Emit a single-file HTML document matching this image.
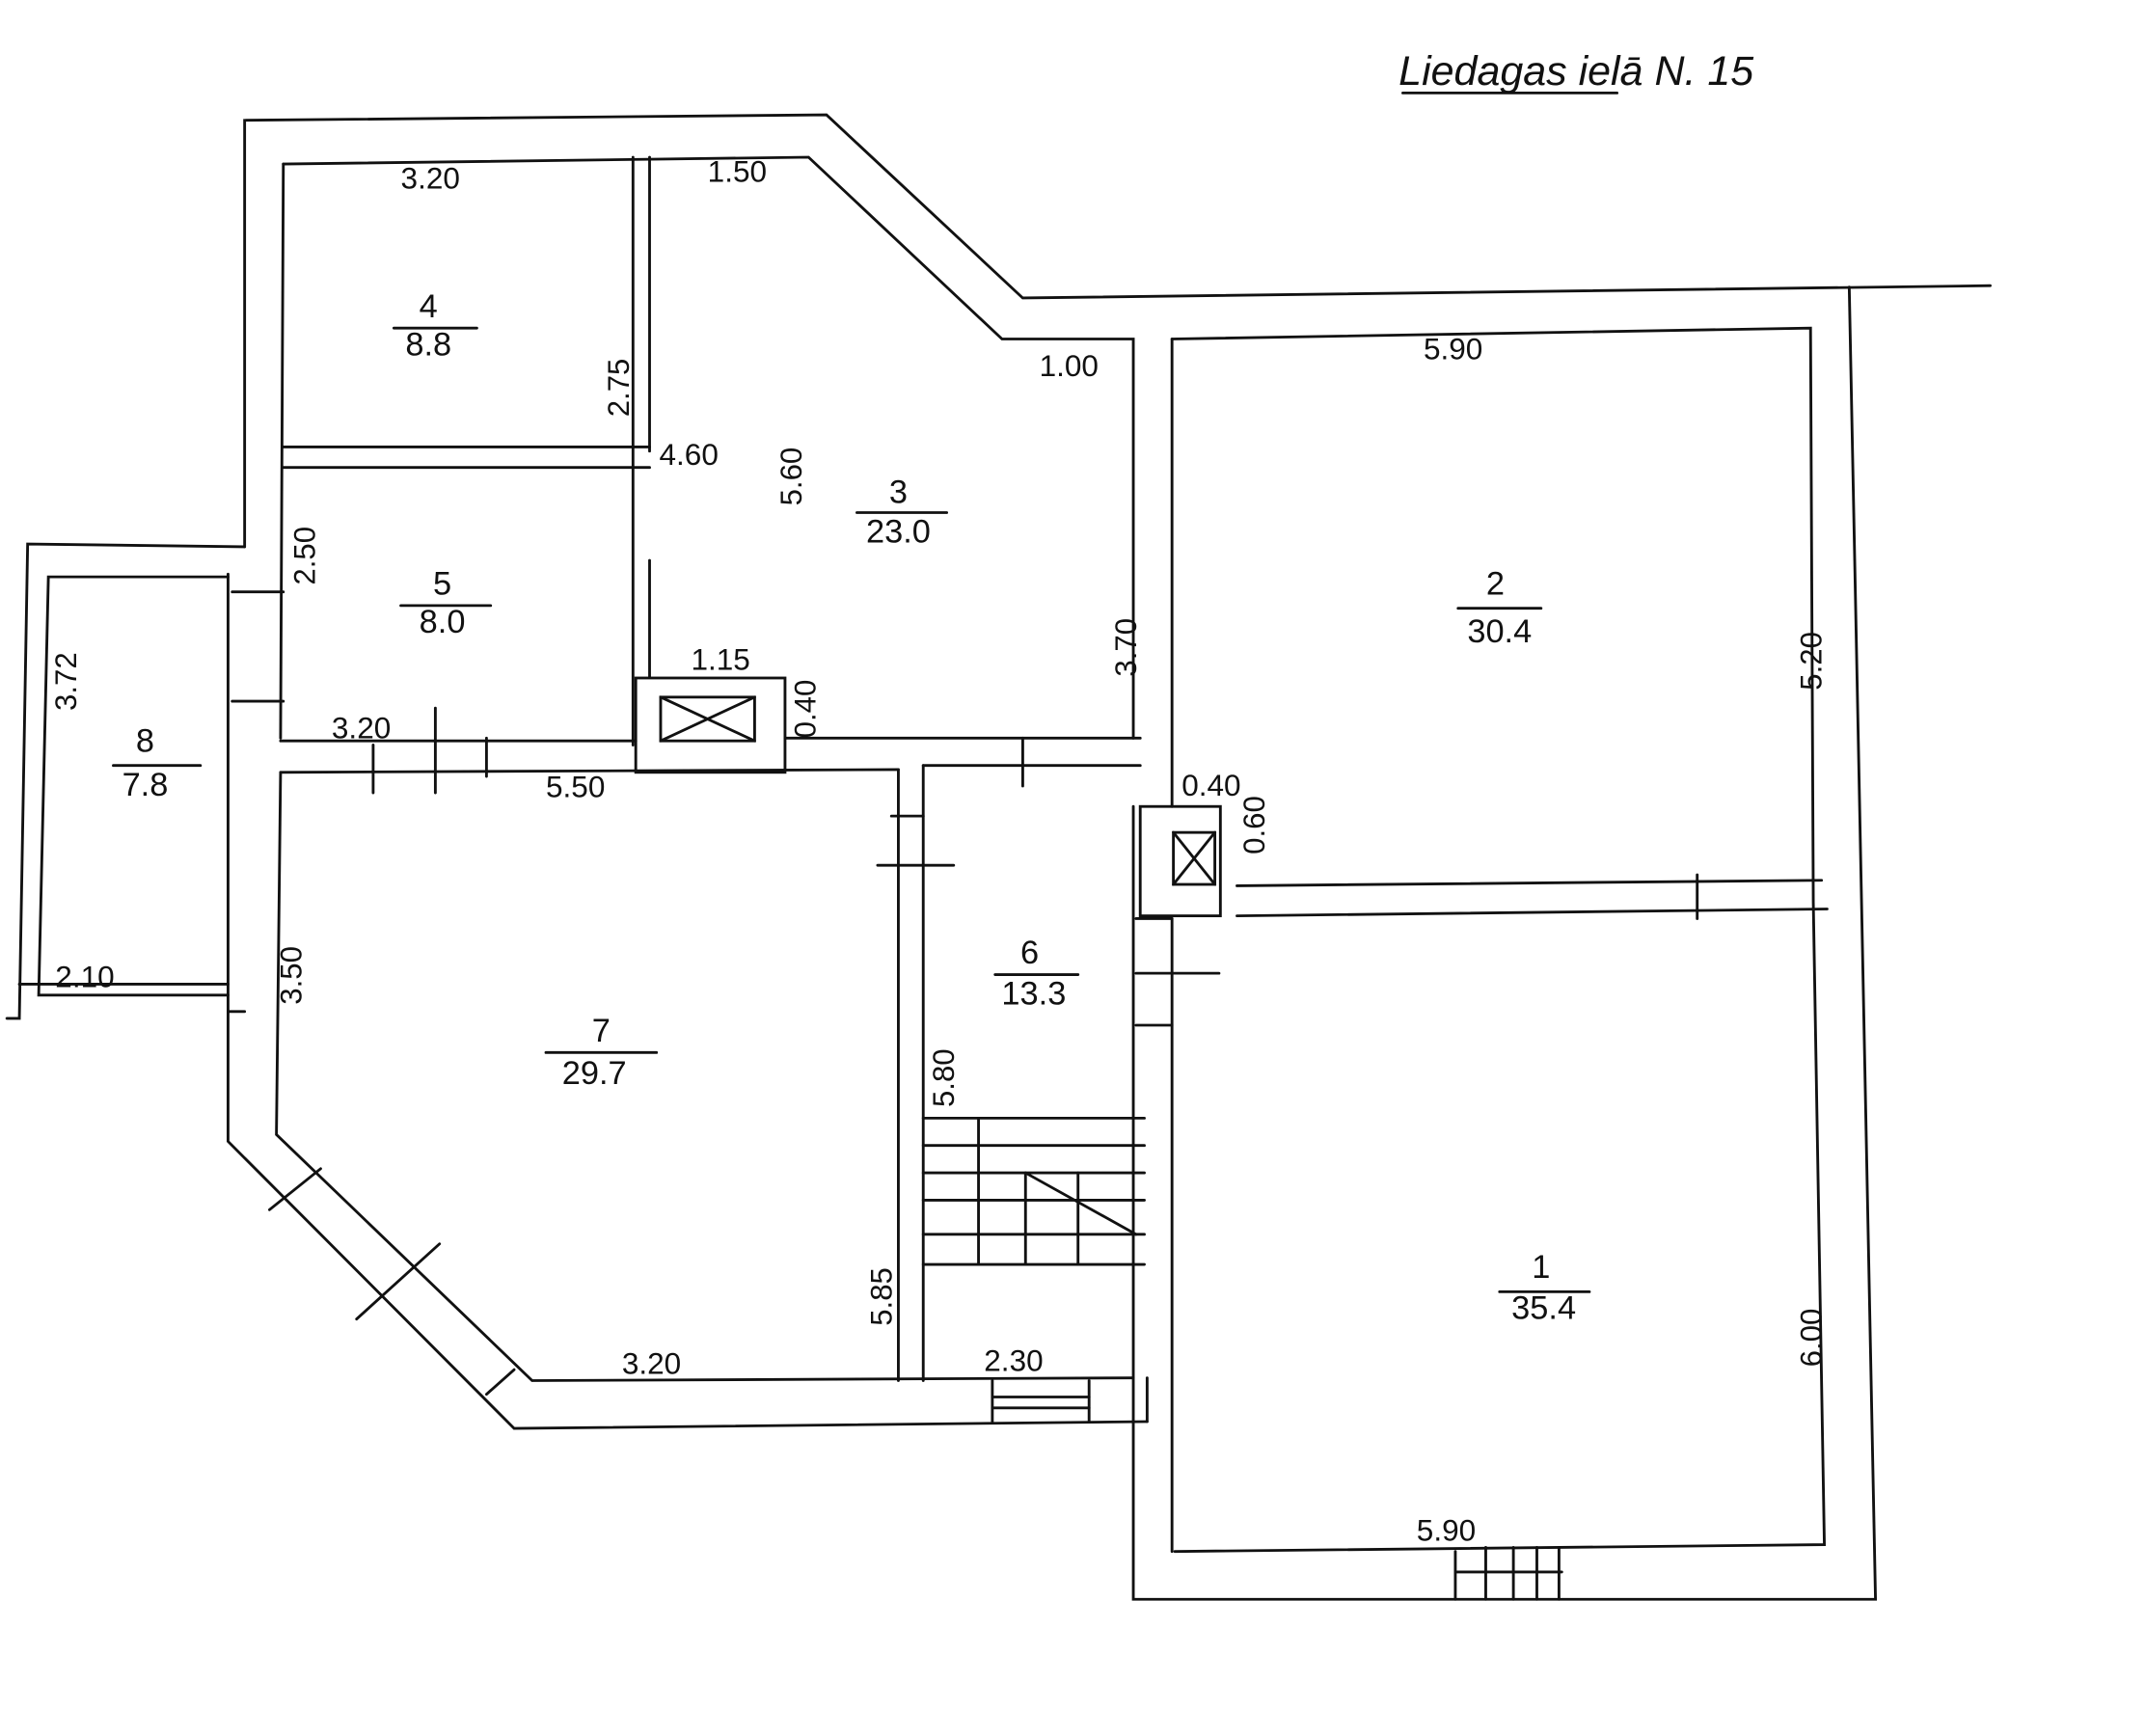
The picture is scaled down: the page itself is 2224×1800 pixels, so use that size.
<!DOCTYPE html>
<html><head><meta charset="utf-8"><style>
html,body{margin:0;padding:0;background:#fff;}
svg{display:block}
text{font-family:"Liberation Sans",sans-serif;fill:#111;}
</style></head><body>
<svg width="2224" height="1800" viewBox="0 0 1552 1270" preserveAspectRatio="none" xmlns="http://www.w3.org/2000/svg">
<g stroke="#111" stroke-width="2" fill="none" stroke-linecap="round">
<!-- outer left building -->
<polyline points="177,400 177,88 598,84 740,218 1440,209"/>
<polyline points="205,120 585,115 725,248 820,248 820,540"/>
<line x1="177" y1="740" x2="165" y2="740"/>
<polyline points="165,420 165,835 372,1045 830,1040"/>
<polyline points="205,120 203,540"/>
<polyline points="203,565 200,830 385,1010 820,1008"/>
<!-- room 8 -->
<polyline points="177,400 20,398 14,745 5,745"/>
<polyline points="165,422 35,422 28,728 165,728"/>
<line x1="14" y1="720" x2="165" y2="720"/>
<line x1="168" y1="433" x2="205" y2="433"/>
<line x1="168" y1="513" x2="205" y2="513"/>
<!-- walls 4/5 -->
<line x1="205" y1="327" x2="470" y2="327"/>
<line x1="205" y1="342" x2="470" y2="342"/>
<line x1="458" y1="115" x2="458" y2="545"/>
<line x1="470" y1="115" x2="470" y2="330"/>
<line x1="470" y1="410" x2="470" y2="495"/>
<!-- horizontal corridor walls -->
<line x1="203" y1="542" x2="460" y2="542"/>
<line x1="568" y1="540" x2="825" y2="540"/>
<line x1="203" y1="565" x2="650" y2="563"/>
<line x1="668" y1="560" x2="825" y2="560"/>
<rect x="460" y="496" width="108" height="69"/>
<rect x="478" y="510" width="68" height="32"/>
<line x1="478" y1="510" x2="546" y2="542"/><line x1="478" y1="542" x2="546" y2="510"/>
<line x1="270" y1="545" x2="270" y2="580"/><line x1="315" y1="518" x2="315" y2="580"/><line x1="352" y1="540" x2="352" y2="568"/>
<line x1="740" y1="540" x2="740" y2="575"/>
<!-- room 6 / stair -->
<line x1="650" y1="563" x2="650" y2="1010"/>
<line x1="668" y1="560" x2="668" y2="1010"/>
<line x1="635" y1="633" x2="690" y2="633"/><line x1="645" y1="597" x2="668" y2="597"/>
<line x1="820" y1="590" x2="820" y2="1040"/>
<line x1="848" y1="248" x2="848" y2="590"/>
<line x1="848" y1="672" x2="848" y2="1135"/>
<line x1="822" y1="712" x2="882" y2="712"/>
<line x1="822" y1="750" x2="848" y2="750"/>
<line x1="822" y1="672" x2="848" y2="672"/>
<line x1="830" y1="1008" x2="830" y2="1040"/>
<line x1="668" y1="818" x2="828" y2="818"/><line x1="668" y1="838" x2="828" y2="838"/><line x1="668" y1="858" x2="828" y2="858"/>
<line x1="668" y1="878" x2="828" y2="878"/><line x1="668" y1="903" x2="828" y2="903"/><line x1="668" y1="925" x2="828" y2="925"/>
<line x1="708" y1="818" x2="708" y2="925"/><line x1="742" y1="858" x2="742" y2="925"/><line x1="780" y1="858" x2="780" y2="925"/>
<line x1="742" y1="858" x2="822" y2="903"/>
<line x1="718" y1="1010" x2="718" y2="1040"/><line x1="788" y1="1010" x2="788" y2="1040"/>
<line x1="718" y1="1022" x2="788" y2="1022"/><line x1="718" y1="1030" x2="788" y2="1030"/>
<!-- diagonal ticks -->
<line x1="195" y1="885" x2="232" y2="855"/><line x1="258" y1="965" x2="318" y2="910"/><line x1="352" y1="1020" x2="372" y2="1002"/>
<!-- right building -->
<polyline points="848,248 1310,240 1312,660 1320,1130 850,1135"/>
<polyline points="1338,210 1357,1170 820,1170 820,1040"/>
<rect x="825" y="590" width="58" height="80"/>
<rect x="849" y="609" width="30" height="38"/>
<line x1="849" y1="609" x2="879" y2="647"/><line x1="849" y1="647" x2="879" y2="609"/>
<line x1="895" y1="648" x2="1318" y2="644"/>
<line x1="895" y1="670" x2="1322" y2="665"/>
<line x1="1228" y1="640" x2="1228" y2="672"/>
<line x1="1053" y1="1135" x2="1053" y2="1170"/><line x1="1053" y1="1150" x2="1130" y2="1150"/>
<line x1="1075" y1="1132" x2="1075" y2="1170"/><line x1="1095" y1="1132" x2="1095" y2="1170"/><line x1="1112" y1="1132" x2="1112" y2="1170"/><line x1="1128" y1="1132" x2="1128" y2="1170"/>
<!-- fraction bars -->
<line x1="285" y1="240" x2="345" y2="240"/><line x1="290" y1="443" x2="355" y2="443"/>
<line x1="620" y1="375" x2="685" y2="375"/><line x1="1055" y1="445" x2="1115" y2="445"/>
<line x1="82" y1="560" x2="145" y2="560"/><line x1="720" y1="713" x2="780" y2="713"/>
<line x1="395" y1="770" x2="475" y2="770"/><line x1="1085" y1="945" x2="1150" y2="945"/>
<line x1="1015" y1="68" x2="1170" y2="68"/>
</g>
<g font-size="22">
<text x="290" y="138">3.20</text><text x="512" y="133">1.50</text>
<text x="752" y="275">1.00</text><text x="1030" y="263">5.90</text>
<text x="477" y="340">4.60</text><text x="500" y="490">1.15</text>
<text x="240" y="540">3.20</text><text x="395" y="583">5.50</text>
<text x="855" y="582">0.40</text><text x="40" y="722">2.10</text>
<text x="450" y="1005">3.20</text><text x="712" y="1003">2.30</text>
<text x="1025" y="1127">5.90</text>
<text font-size="30" x="1012" y="62" font-style="italic">Liedagas ielā  N. 15</text>
</g>
<g font-size="24" text-anchor="middle">
<text x="310" y="232">4</text><text x="310" y="260">8.8</text>
<text x="320" y="435">5</text><text x="320" y="463">8.0</text>
<text x="650" y="368">3</text><text x="650" y="397">23.0</text>
<text x="1082" y="435">2</text><text x="1085" y="470">30.4</text>
<text x="105" y="550">8</text><text x="105" y="582">7.8</text>
<text x="745" y="705">6</text><text x="748" y="735">13.3</text>
<text x="435" y="762">7</text><text x="430" y="793">29.7</text>
<text x="1115" y="935">1</text><text x="1117" y="965">35.4</text>
</g>
<g font-size="22">
<text transform="translate(455,305) rotate(-90)">2.75</text>
<text transform="translate(580,370) rotate(-90)">5.60</text>
<text transform="translate(228,428) rotate(-90)">2.50</text>
<text transform="translate(55,520) rotate(-90)">3.72</text>
<text transform="translate(590,540) rotate(-90)">0.40</text>
<text transform="translate(822,495) rotate(-90)">3.70</text>
<text transform="translate(1318,505) rotate(-90)">5.20</text>
<text transform="translate(915,625) rotate(-90)">0.60</text>
<text transform="translate(218,735) rotate(-90)">3.50</text>
<text transform="translate(690,810) rotate(-90)">5.80</text>
<text transform="translate(645,970) rotate(-90)">5.85</text>
<text transform="translate(1318,1000) rotate(-90)">6.00</text>
</g>
</svg>
</body></html>
